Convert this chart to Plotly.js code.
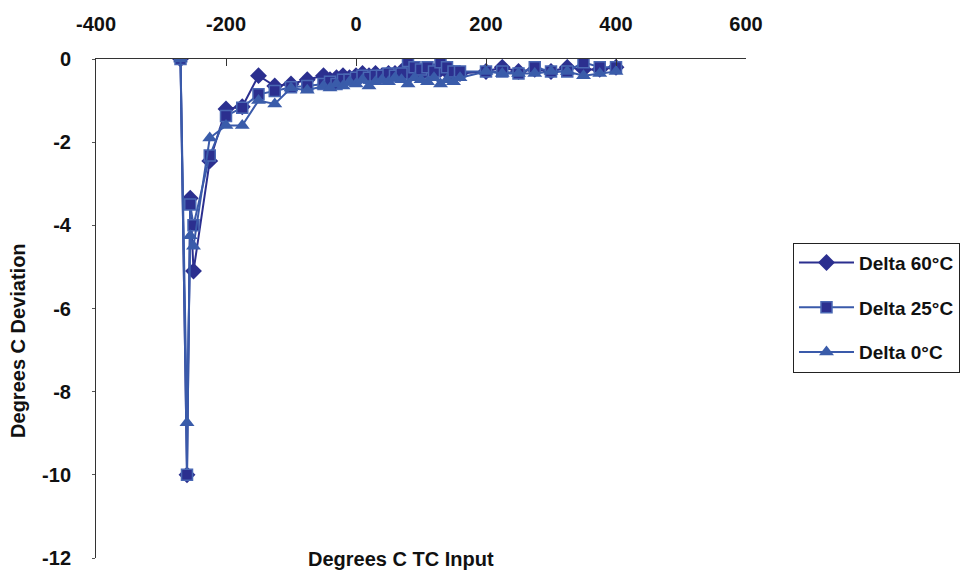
<!DOCTYPE html>
<html>
<head>
<meta charset="utf-8">
<script src="https://cdn.plot.ly/plotly-3.0.1.min.js"></script>
<style>html,body{margin:0;padding:0;background:#fff;}#chart{width:960px;height:573px;}</style>
</head>
<body>
<div id="chart"></div>
<script>
const xInput = [-270,-260,-255,-250,-225,-200,-175,-150,-125,-100,-75,-50,-40,-30,-20,-10,0,10,20,30,40,50,60,70,80,90,100,110,120,130,140,150,160,200,225,250,275,300,325,350,375,400];
const delta60 = [0,-10,-3.35,-5.1,-2.45,-1.2,-1.15,-0.4,-0.65,-0.6,-0.5,-0.4,-0.5,-0.45,-0.4,-0.45,-0.4,-0.35,-0.4,-0.35,-0.4,-0.35,-0.35,-0.3,-0.3,-0.3,-0.35,-0.3,-0.3,-0.25,-0.3,-0.35,-0.35,-0.3,-0.2,-0.3,-0.25,-0.3,-0.2,-0.25,-0.25,-0.2];
const delta25 = [0,-10,-3.5,-4.0,-2.32,-1.37,-1.17,-0.85,-0.77,-0.68,-0.65,-0.6,-0.55,-0.6,-0.5,-0.5,-0.45,-0.4,-0.45,-0.4,-0.4,-0.35,-0.4,-0.35,-0.05,-0.2,-0.25,-0.2,-0.3,-0.08,-0.2,-0.3,-0.3,-0.3,-0.3,-0.35,-0.2,-0.3,-0.3,-0.08,-0.2,-0.2];
const delta0 = [0,-8.75,-4.25,-4.5,-1.9,-1.6,-1.6,-1.0,-1.08,-0.7,-0.75,-0.65,-0.7,-0.6,-0.65,-0.55,-0.6,-0.5,-0.65,-0.55,-0.5,-0.55,-0.45,-0.5,-0.6,-0.45,-0.5,-0.55,-0.45,-0.6,-0.5,-0.55,-0.45,-0.3,-0.35,-0.35,-0.35,-0.3,-0.3,-0.4,-0.35,-0.3];
const seriesNames = ['Delta 60°C','Delta 25°C','Delta 0°C'];
const xTicks = [-400,-200,0,200,400,600];
const yTicks = [0,-2,-4,-6,-8,-10,-12];

const FONT = 'Liberation Sans, Arial, sans-serif';
const traces = [
  {x:xInput, y:delta60, name:seriesNames[0], mode:'lines+markers', legendgroup:'a',
   line:{color:'#2B2F8F', width:2}, marker:{symbol:'diamond', size:13, color:'#2B2F8F'}},
  {x:xInput, y:delta25, name:seriesNames[1], mode:'lines+markers', legendgroup:'b',
   line:{color:'#3A5AAA', width:2}, marker:{symbol:'square', size:11, color:'#2B2F8F', line:{color:'#4A68B4', width:1.5}}},
  {x:xInput, y:delta0, name:seriesNames[2], mode:'lines+markers', legendgroup:'c',
   line:{color:'#3A5AAA', width:2}, marker:{symbol:'triangle-up', size:13, color:'#3A5CAA'}}
];
const layout = {
  width:960, height:573,
  margin:{l:96, r:214, t:59, b:15, autoexpand:false},
  paper_bgcolor:'#fff', plot_bgcolor:'#fff',
  showlegend:true,
  xaxis:{range:[-400,600], side:'top', tickvals:xTicks, ticktext:xTicks.map(String),
    showgrid:false, zeroline:false, showline:true, linecolor:'#333', linewidth:1,
    ticks:'inside', ticklen:7, tickcolor:'#333', ticklabelstandoff:19,
    tickfont:{family:FONT, size:20, weight:'bold', color:'#111'}},
  yaxis:{range:[-12,0], tickvals:yTicks, ticktext:yTicks.map(String),
    showgrid:false, zeroline:false, showline:true, linecolor:'#333', linewidth:1,
    ticks:'outside', ticklen:3, tickcolor:'#555', ticklabelstandoff:17,
    tickfont:{family:FONT, size:20, weight:'bold', color:'#111'}},
  legend:{x:1.0723, xanchor:'left', y:0.632, yanchor:'top', bordercolor:'#222', borderwidth:1,
    bgcolor:'#fff', traceorder:'grouped', tracegroupgap:17, itemwidth:55,
    font:{family:FONT, size:19, weight:'bold', color:'#111'}},
  annotations:[
    {text:'Degrees C TC Input', xref:'paper', yref:'paper', x:0.469, y:-0.002, showarrow:false,
     xanchor:'center', yanchor:'middle', font:{family:FONT, size:20, weight:'bold', color:'#111'}},
    {text:'Degrees C Deviation', xref:'paper', yref:'paper', x:-0.12, y:0.435, showarrow:false,
     textangle:-90, xanchor:'center', yanchor:'middle', font:{family:FONT, size:20, weight:'bold', color:'#111'}}
  ]
};
Plotly.newPlot('chart', traces, layout, {displayModeBar:false, staticPlot:true});
</script>
</body>
</html>
